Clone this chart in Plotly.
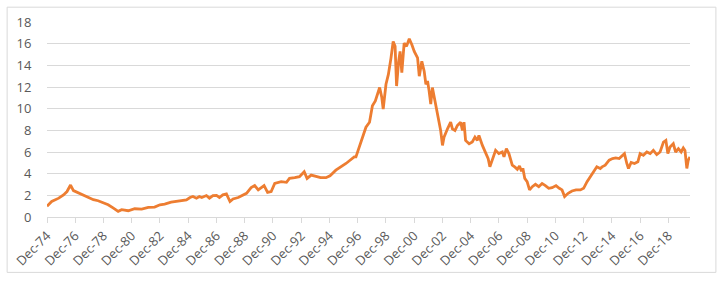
import plotly.graph_objects as go

# Series (date, value)
dates = [
    "1974-12-01", "1975-04-01", "1975-10-01", "1976-02-01", "1976-05-01", "1976-08-01",
    "1976-10-15", "1977-02-01", "1977-06-15", "1977-11-01", "1978-03-15", "1978-07-15",
    "1978-12-01", "1979-04-01", "1979-08-15", "1979-12-15", "1980-03-15", "1980-09-01",
    "1981-02-15", "1981-08-15", "1982-02-01", "1982-07-15", "1982-12-01", "1983-04-01",
    "1983-09-15", "1984-02-01", "1984-06-15", "1984-10-15", "1985-01-15", "1985-04-01",
    "1985-07-01", "1985-09-15", "1985-11-15", "1986-03-15", "1986-06-01", "1986-09-01",
    "1986-12-01", "1987-02-15", "1987-05-15", "1987-08-15", "1987-11-15", "1988-02-01",
    "1988-06-15", "1988-10-15", "1989-01-15", "1989-05-15", "1989-08-15", "1989-11-15",
    "1990-02-01", "1990-04-15", "1990-07-15", "1990-10-15", "1991-01-15", "1991-05-15",
    "1991-07-01", "1991-11-15", "1992-02-01", "1992-06-15", "1992-10-15", "1993-02-15",
    "1993-05-01", "1993-08-15", "1993-12-15", "1994-04-15", "1994-09-01", "1994-12-15",
    "1995-05-15", "1995-10-01", "1996-02-01", "1996-05-15", "1996-09-01", "1996-10-15",
    "1997-01-15", "1997-04-15", "1997-07-01", "1997-10-01", "1997-12-15", "1998-03-01",
    "1998-05-15", "1998-06-20", "1998-08-15", "1998-09-20", "1998-12-01", "1999-02-01",
    "1999-04-10", "1999-06-05", "1999-07-25", "1999-09-01", "1999-10-25", "1999-12-01",
    "2000-01-15", "2000-03-15", "2000-05-15", "2000-07-25", "2000-10-01", "2000-12-01",
    "2001-02-25", "2001-04-10", "2001-06-15", "2001-08-15", "2001-09-28", "2001-11-10",
    "2001-12-20", "2002-02-01", "2002-03-15", "2002-04-25", "2002-06-28", "2002-08-20",
    "2002-10-15", "2002-12-01", "2003-01-10", "2003-04-10", "2003-07-01", "2003-08-15",
    "2003-10-20", "2003-12-20", "2004-03-15", "2004-04-30", "2004-06-10", "2004-07-20",
    "2004-10-20", "2005-01-10", "2005-03-20", "2005-05-20", "2005-07-01", "2005-09-28",
    "2005-12-20", "2006-02-25", "2006-04-10", "2006-06-10", "2006-09-05", "2006-11-28",
    "2007-02-25", "2007-04-10", "2007-06-10", "2007-08-15", "2007-11-10", "2008-01-20",
    "2008-03-20", "2008-05-15", "2008-07-05", "2008-08-10", "2008-09-28", "2008-11-28",
    "2009-01-30", "2009-04-10", "2009-07-01", "2009-09-25", "2009-12-20", "2010-03-15",
    "2010-06-10", "2010-09-05", "2010-12-15", "2011-03-10", "2011-05-20", "2011-07-25",
    "2011-10-25", "2012-02-01", "2012-05-15", "2012-09-05", "2012-11-28", "2013-02-25",
    "2013-05-20", "2013-08-15", "2013-11-05", "2014-02-01", "2014-03-20", "2014-06-10",
    "2014-09-20", "2014-12-15", "2015-03-10", "2015-06-05", "2015-08-15", "2015-10-20",
    "2015-12-20", "2016-02-01", "2016-04-10", "2016-07-05", "2016-10-01", "2016-11-28",
    "2017-02-20", "2017-05-20", "2017-08-15", "2017-11-05", "2018-02-01", "2018-04-28",
    "2018-07-25", "2018-09-25", "2018-11-15", "2019-01-10", "2019-04-05", "2019-06-05",
    "2019-08-15", "2019-10-25", "2019-12-20", "2020-02-01", "2020-03-20", "2020-04-25",
    "2020-06-10",
]
values = [
    1.00, 1.43, 1.74, 2.04, 2.35, 2.95,
    2.44, 2.26, 2.04, 1.80, 1.60, 1.50,
    1.28, 1.13, 0.82, 0.52, 0.67, 0.58,
    0.76, 0.73, 0.89, 0.91, 1.13, 1.19,
    1.37, 1.43, 1.49, 1.58, 1.80, 1.89,
    1.74, 1.89, 1.80, 1.98, 1.74, 1.98,
    2.00, 1.80, 2.04, 2.13, 1.43, 1.67,
    1.80, 1.98, 2.19, 2.71, 2.90, 2.50,
    2.71, 2.90, 2.28, 2.35, 3.10, 3.26,
    3.26, 3.20, 3.56, 3.63, 3.72, 4.18,
    3.56, 3.87, 3.72, 3.63, 3.63, 3.81,
    4.32, 4.63, 4.94, 5.24, 5.55, 5.55,
    6.46, 7.37, 8.29, 8.75, 10.27, 10.72,
    11.49, 11.95, 11.03, 9.96, 12.25, 13.16,
    14.69, 16.20, 15.75, 12.09, 14.38, 15.29,
    13.32, 16.06, 15.75, 16.45, 15.90, 15.29,
    14.69, 13.00, 14.38, 13.46, 12.25, 12.55,
    11.64, 10.42, 11.95, 11.18, 9.81, 8.90,
    7.98, 6.61, 7.37, 8.14, 8.75, 8.14,
    7.98, 8.44, 8.75, 7.98, 8.75, 7.07,
    6.76, 6.92, 7.37, 7.07, 7.52, 6.61,
    6.00, 5.39, 4.63, 5.24, 6.15, 5.85,
    6.00, 5.55, 6.31, 5.85, 4.78, 4.60,
    4.40, 4.70, 4.23, 4.50, 3.56, 3.26,
    2.50, 2.80, 3.02, 2.80, 3.10, 2.90,
    2.65, 2.71, 2.90, 2.65, 2.50, 1.89,
    2.19, 2.40, 2.50, 2.50, 2.65, 3.26,
    3.72, 4.18, 4.63, 4.48, 4.63, 4.78,
    5.24, 5.39, 5.45, 5.39, 5.64, 5.85,
    4.94, 4.48, 5.03, 4.94, 5.09, 5.85,
    5.69, 6.00, 5.85, 6.15, 5.76, 6.00,
    6.92, 7.07, 5.85, 6.46, 6.76, 6.00,
    6.31, 6.00, 6.37, 6.15, 4.48, 5.24,
    5.55,
]

x_start = "1974-12-01"
x_end = "2020-06-10"
y_ticks = list(range(0, 19, 2))

LINE_COLOR = "#ED7D31"
GRID = "#D9D9D9"
TEXT = "#595959"

fig = go.Figure()
fig.add_trace(go.Scatter(
    x=dates, y=values, mode="lines",
    line=dict(color=LINE_COLOR, width=2.8),
    hoverinfo="x+y", showlegend=False,
))

fig.update_layout(
    width=720, height=281,
    margin=dict(l=45, r=30, t=22, b=62),
    paper_bgcolor="white", plot_bgcolor="white",
    font=dict(family="Open Sans, Liberation Sans, sans-serif", size=13, color=TEXT),
    xaxis=dict(
        type="date", range=[x_start, x_end],
        tick0=x_start, dtick="M24", tickformat="%b-%y",
        tickangle=-45, showgrid=False,
        showline=True, linecolor=GRID, linewidth=1,
        ticks="outside", ticklen=5, tickcolor=GRID,
        tickfont=dict(size=13, color=TEXT),
        zeroline=False,
    ),
    yaxis=dict(
        range=[0, 18], tickvals=y_ticks,
        showgrid=True, gridcolor=GRID, gridwidth=1,
        zeroline=False, showline=False,
        ticks="outside", ticklen=12, tickcolor="rgba(0,0,0,0)",
        tickfont=dict(size=13, color=TEXT),
    ),
    shapes=[dict(
        type="rect", xref="paper", yref="paper",
        x0=-0.062, x1=1.0403, y0=-0.284, y1=1.076,
        line=dict(color=GRID, width=1), fillcolor="rgba(0,0,0,0)",
    )],
)

fig.write_html("out.html")
